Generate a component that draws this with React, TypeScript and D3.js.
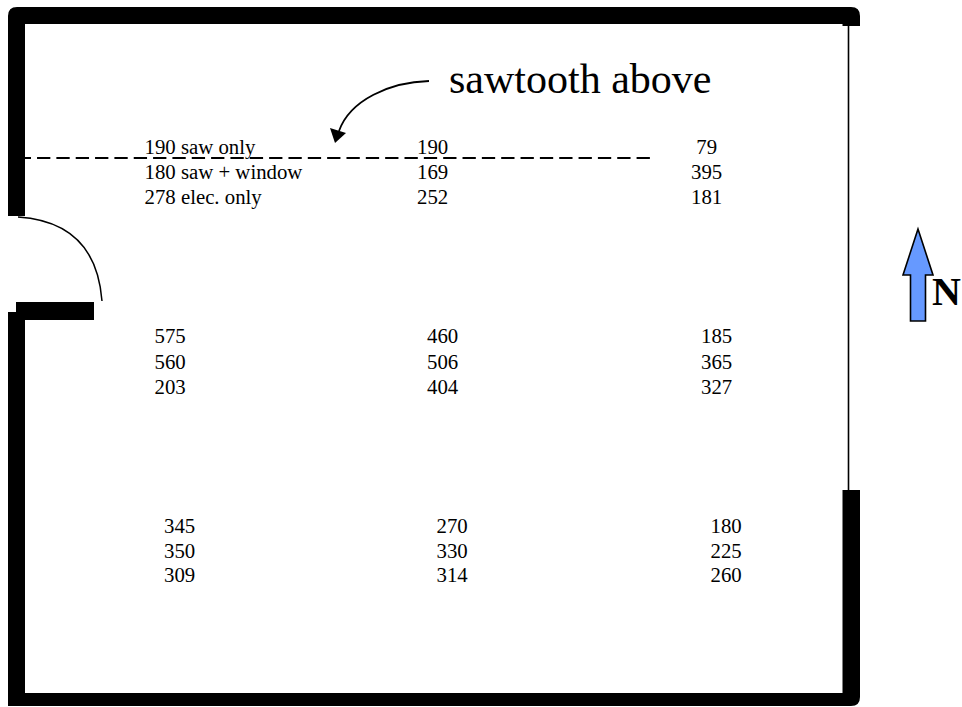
import React from "react";
import * as d3 from "d3";

const sawOnly = [[190, 190, 79], [575, 460, 185], [345, 270, 180]];
const sawWindow = [[180, 169, 395], [560, 506, 365], [350, 330, 225]];
const elecOnly = [[278, 252, 181], [203, 404, 327], [309, 314, 260]];
const seriesNames = ["saw only", "saw + window", "elec. only"];
const series = [sawOnly, sawWindow, elecOnly];
const gridRows = [0, 1, 2];
const gridCols = [0, 1, 2];

const W = 962, H = 707;
const FONT = "'Liberation Serif', 'Times New Roman', serif";
const rowY = d3.scaleLinear().domain([0, 1, 2]).range([154, 343, 533]);
const colX = d3.scaleLinear().domain([0, 1, 2]).range([144.5, 417, 691]);
const rowShift = d3.scaleLinear().domain([0, 1, 2]).range([0, 10, 19.5]);
const lineGap = [25, 25.7, 24.6];

export default function App() {
  const wallPath = [
    "M8 216 V16 Q8 7 17 7 H851 Q860 7 860 16 V26 H842.5 V24 H25 V216 Z",
    "M16 302 H94 V320 H25 V706 H8 V312 H16 Z",
    "M842.5 490 H860 V697 Q860 706 851 706 H17 Q8 706 8 697 V640 H25 V693 H842.5 Z",
  ];
  const swing = d3.path();
  swing.moveTo(18, 217);
  swing.quadraticCurveTo(96, 222, 102, 301);
  const curve = d3.path();
  curve.moveTo(429, 81);
  curve.bezierCurveTo(390, 82, 350, 100, 339, 131);

  return (
    <svg width={W} height={H} style={{ position: "absolute", left: 0, top: 0, background: "#fff" }}>
      {wallPath.map((d, i) => <path key={i} d={d} fill="#000" />)}
      <line x1={848.5} x2={848.5} y1={26} y2={490} stroke="#000" strokeWidth={1.6} />
      <line x1={25} x2={650} y1={158} y2={158} stroke="#000" strokeWidth={2} strokeDasharray="13.3 6.04" strokeDashoffset={7.3} />
      <path d={swing.toString()} fill="none" stroke="#000" strokeWidth={1.5} />
      <path d={curve.toString()} fill="none" stroke="#000" strokeWidth={1.8} />
      <path d="M335 143 L330 128 L346 133 Z" fill="#000" />
      <text x={449} y={93} fontFamily={FONT} fontSize={42} fill="#000">sawtooth above</text>
      <path d="M918 229 L903 275 H910.5 V321 H925.5 V275 H933 Z" fill="#6699ff" stroke="#000" strokeWidth={1.6} />
      <text x={932} y={305} fontFamily={FONT} fontSize={40} fontWeight="bold" fill="#000">N</text>
      {gridRows.map(r => gridCols.map(c => series.map((s, k) => {
        const v = s[r][c];
        const x = colX(c) + rowShift(r) + (v < 100 ? 5.25 : 0);
        const label = r === 0 && c === 0 ? `${v} ${seriesNames[k]}` : `${v}`;
        return (
          <text key={`${r}-${c}-${k}`} x={x} y={rowY(r) + k * lineGap[r]} fontFamily={FONT} fontSize={20.8} fill="#000">
            {label}
          </text>
        );
      })))}
    </svg>
  );
}
